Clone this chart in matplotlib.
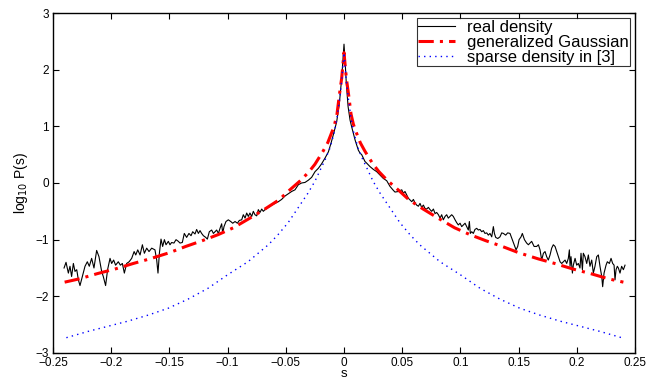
import numpy as np
import matplotlib.pyplot as plt

# real density
s_real = [-0.2405, -0.2388, -0.2368, -0.2354, -0.2340, -0.2325, -0.2311, -0.2296, -0.2282, -0.2268,
          -0.2248, -0.2225, -0.2205, -0.2188, -0.2168, -0.2148, -0.2125, -0.2105, -0.2082, -0.2068,
          -0.2048, -0.2031, -0.2010, -0.1996, -0.1979, -0.1962, -0.1939, -0.1921, -0.1904, -0.1887,
          -0.1867, -0.1846, -0.1824, -0.1803, -0.1789, -0.1772, -0.1752, -0.1732, -0.1715, -0.1695,
          -0.1675, -0.1652, -0.1624, -0.1609, -0.1598, -0.1586, -0.1572, -0.1558, -0.1543, -0.1529,
          -0.1509, -0.1495, -0.1481, -0.1461, -0.1443, -0.1423, -0.1409, -0.1389, -0.1372, -0.1352,
          -0.1332, -0.1314, -0.1300, -0.1280, -0.1266, -0.1251, -0.1237, -0.1223, -0.1208, -0.1188,
          -0.1174, -0.1157, -0.1137, -0.1122, -0.1108, -0.1094, -0.1079, -0.1065, -0.1051, -0.1042,
          -0.1031, -0.1014, -0.0994, -0.0973, -0.0956, -0.0936, -0.0916, -0.0899, -0.0879, -0.0865,
          -0.0850, -0.0836, -0.0822, -0.0808, -0.0793, -0.0779, -0.0765, -0.0750, -0.0736, -0.0722,
          -0.0707, -0.0693, -0.0679, -0.0650, -0.0622, -0.0593, -0.0564, -0.0536, -0.0507, -0.0478,
          -0.0450, -0.0421, -0.0392, -0.0364, -0.0335, -0.0306, -0.0278, -0.0249, -0.0220, -0.0192,
          -0.0163, -0.0134, -0.0112, -0.0092, -0.0077, -0.0063, -0.0040, -0.0020, -0.0008, 0.0,
          0.0008, 0.0020, 0.0035, 0.0052, 0.0066, 0.0080, 0.0095, 0.0109, 0.0123, 0.0137,
          0.0152, 0.0166, 0.0180, 0.0195, 0.0223, 0.0252, 0.0281, 0.0309, 0.0338, 0.0367,
          0.0395, 0.0424, 0.0438, 0.0467, 0.0496, 0.0510, 0.0524, 0.0538, 0.0553, 0.0567,
          0.0582, 0.0596, 0.0610, 0.0624, 0.0639, 0.0653, 0.0667, 0.0682, 0.0696, 0.0710,
          0.0725, 0.0739, 0.0753, 0.0768, 0.0782, 0.0796, 0.0811, 0.0825, 0.0839, 0.0853,
          0.0868, 0.0882, 0.0896, 0.0911, 0.0925, 0.0939, 0.0954, 0.0968, 0.0982, 0.0997,
          0.1011, 0.1025, 0.1040, 0.1054, 0.1068, 0.1077, 0.1085, 0.1097, 0.1111, 0.1125,
          0.1140, 0.1154, 0.1168, 0.1183, 0.1197, 0.1211, 0.1226, 0.1240, 0.1254, 0.1269,
          0.1283, 0.1292, 0.1303, 0.1321, 0.1340, 0.1355, 0.1369, 0.1389, 0.1406, 0.1426,
          0.1446, 0.1463, 0.1478, 0.1492, 0.1504, 0.1521, 0.1532, 0.1550, 0.1569, 0.1584,
          0.1598, 0.1612, 0.1633, 0.1655, 0.1670, 0.1684, 0.1698, 0.1713, 0.1727, 0.1741,
          0.1755, 0.1770, 0.1784, 0.1798, 0.1813, 0.1827, 0.1841, 0.1856, 0.1870, 0.1884,
          0.1899, 0.1913, 0.1927, 0.1936, 0.1942, 0.1950, 0.1962, 0.1970, 0.1985, 0.1999,
          0.2013, 0.2027, 0.2036, 0.2048, 0.2056, 0.2070, 0.2085, 0.2099, 0.2113, 0.2128,
          0.2142, 0.2156, 0.2171, 0.2185, 0.2199, 0.2214, 0.2222, 0.2234, 0.2251, 0.2262,
          0.2280, 0.2294, 0.2308, 0.2320, 0.2328, 0.2337, 0.2348, 0.2357, 0.2371, 0.2385,
          0.2400, 0.2414]
p_real = [-1.50, -1.40, -1.59, -1.47, -1.65, -1.42, -1.56, -1.53, -1.71, -1.81,
          -1.65, -1.47, -1.39, -1.47, -1.33, -1.50, -1.19, -1.30, -1.56, -1.65,
          -1.81, -1.53, -1.33, -1.42, -1.36, -1.45, -1.39, -1.45, -1.42, -1.59,
          -1.42, -1.39, -1.33, -1.21, -1.27, -1.18, -1.27, -1.09, -1.24, -1.15,
          -1.21, -1.15, -1.18, -1.36, -1.59, -1.24, -0.99, -1.12, -1.00, -1.09,
          -1.03, -1.09, -1.05, -1.06, -1.00, -1.03, -1.06, -1.05, -0.89, -0.96,
          -0.89, -0.93, -0.86, -0.90, -0.82, -0.89, -0.84, -0.89, -0.93, -0.96,
          -0.99, -0.86, -0.83, -0.89, -0.86, -0.83, -0.89, -0.80, -0.72, -0.89,
          -0.77, -0.68, -0.65, -0.68, -0.71, -0.68, -0.71, -0.66, -0.65, -0.56,
          -0.62, -0.53, -0.59, -0.53, -0.59, -0.50, -0.56, -0.58, -0.47, -0.52,
          -0.46, -0.50, -0.47, -0.43, -0.39, -0.36, -0.33, -0.29, -0.23, -0.19,
          -0.15, -0.12, -0.03, 0.00, 0.01, 0.05, 0.10, 0.20, 0.26, 0.34,
          0.44, 0.55, 0.70, 0.85, 0.97, 1.08, 1.40, 1.85, 2.20, 2.45,
          2.20, 1.75, 1.35, 1.11, 0.99, 0.88, 0.76, 0.67, 0.58, 0.53,
          0.50, 0.44, 0.38, 0.35, 0.29, 0.24, 0.20, 0.14, 0.08, 0.04,
          -0.06, -0.13, -0.16, -0.15, -0.12, -0.18, -0.15, -0.21, -0.27, -0.30,
          -0.33, -0.29, -0.35, -0.39, -0.41, -0.36, -0.43, -0.39, -0.45, -0.46,
          -0.43, -0.47, -0.50, -0.46, -0.54, -0.52, -0.56, -0.62, -0.56, -0.65,
          -0.59, -0.56, -0.62, -0.59, -0.56, -0.59, -0.65, -0.70, -0.74, -0.71,
          -0.77, -0.74, -0.71, -0.77, -0.83, -0.68, -0.89, -0.86, -0.89, -0.82,
          -0.80, -0.83, -0.82, -0.86, -0.84, -0.89, -0.88, -0.92, -0.89, -0.95,
          -0.77, -0.89, -0.96, -0.98, -0.95, -0.88, -0.89, -0.92, -0.88, -0.89,
          -1.00, -1.09, -1.18, -1.12, -1.00, -0.95, -0.89, -1.00, -1.06, -1.09,
          -1.06, -1.03, -1.12, -1.12, -1.09, -1.18, -1.36, -1.24, -1.21, -1.30,
          -1.36, -1.27, -1.15, -1.09, -1.12, -1.21, -1.30, -1.39, -1.42, -1.39,
          -1.36, -1.42, -1.33, -1.18, -1.47, -1.30, -1.59, -1.45, -1.33, -1.45,
          -1.42, -1.50, -1.24, -1.53, -1.24, -1.30, -1.42, -1.27, -1.47, -1.36,
          -1.59, -1.47, -1.30, -1.27, -1.47, -1.65, -1.83, -1.59, -1.45, -1.39,
          -1.42, -1.33, -1.42, -1.45, -1.71, -1.53, -1.47, -1.50, -1.59, -1.47,
          -1.53, -1.45]

# generalized Gaussian fit
s_gg = [-0.240, -0.227, -0.212, -0.197, -0.181, -0.167, -0.150, -0.136, -0.122, -0.108,
        -0.095, -0.080, -0.068, -0.056, -0.047, -0.037, -0.030, -0.025, -0.018, -0.014,
        -0.010, -0.008, -0.006, -0.004, -0.002, 0.0, 0.002, 0.004, 0.006, 0.008,
        0.010, 0.014, 0.018, 0.025, 0.030, 0.037, 0.047, 0.056, 0.068, 0.080,
        0.095, 0.108, 0.122, 0.136, 0.150, 0.167, 0.181, 0.197, 0.212, 0.227, 0.240]
p_gg = [-1.75, -1.69, -1.60, -1.52, -1.42, -1.34, -1.23, -1.12, -1.02, -0.91,
        -0.79, -0.61, -0.46, -0.30, -0.13, 0.05, 0.20, 0.33, 0.56, 0.71,
        0.92, 1.04, 1.22, 1.55, 1.85, 2.30, 1.85, 1.55, 1.22, 1.04,
        0.92, 0.71, 0.56, 0.33, 0.20, 0.05, -0.13, -0.30, -0.46, -0.61,
        -0.79, -0.91, -1.02, -1.12, -1.23, -1.34, -1.42, -1.52, -1.60, -1.69, -1.75]

# sparse density from [3]
s_sp = [-0.2385, -0.220, -0.203, -0.186, -0.168, -0.151, -0.134, -0.117, -0.100, -0.0825,
        -0.065, -0.057, -0.048, -0.0395, -0.031, -0.025, -0.0195, -0.016, -0.012, -0.008,
        -0.006, -0.004, -0.002, 0.0, 0.002, 0.004, 0.006, 0.008, 0.012, 0.016,
        0.0195, 0.025, 0.031, 0.0395, 0.048, 0.057, 0.065, 0.0825, 0.100, 0.117,
        0.134, 0.151, 0.168, 0.186, 0.203, 0.220, 0.2385]
p_sp = [-2.73, -2.62, -2.53, -2.44, -2.33, -2.21, -2.05, -1.86, -1.62, -1.39,
        -1.09, -0.92, -0.70, -0.44, -0.18, 0.03, 0.27, 0.42, 0.62, 0.92,
        1.15, 1.45, 1.80, 2.30, 1.80, 1.45, 1.15, 0.92, 0.62, 0.42,
        0.27, 0.03, -0.18, -0.44, -0.70, -0.92, -1.09, -1.39, -1.62, -1.86,
        -2.05, -2.21, -2.33, -2.44, -2.53, -2.62, -2.73]

plt.rcParams['font.family'] = ['Liberation Sans', 'DejaVu Sans']

fig = plt.figure(figsize=(6.55, 3.77), dpi=100)
ax = fig.add_axes([0.0809, 0.0637, 0.8886, 0.9018])

ax.plot(s_real, p_real, color='black', linewidth=0.8, label='real density')
ax.plot(s_gg, p_gg, color='red', linestyle=(0, (5, 2, 1, 2)), linewidth=2.2, label='generalized Gaussian')
ax.plot(s_sp, p_sp, color='blue', linestyle=(0, (1, 3)), linewidth=1.0, label='sparse density in [3]')

ax.set_xlim(-0.25, 0.25)
ax.set_ylim(-3, 3)
ax.set_xticks(np.arange(-0.25, 0.2501, 0.05))
ax.set_xticklabels(['\u22120.25', '\u22120.2', '\u22120.15', '\u22120.1', '\u22120.05', '0',
                    '0.05', '0.1', '0.15', '0.2', '0.25'])
ax.set_yticks([-3, -2, -1, 0, 1, 2, 3])
ax.tick_params(direction='in', length=4, width=0.8, top=True, right=True, labelsize=8.5, pad=3)
for sp in ax.spines.values():
    sp.set_linewidth(1.0)

ax.set_xlabel('s', fontsize=9.5, labelpad=-1)
ax.set_ylabel(r'log$_{10}$ P(s)', fontsize=10, labelpad=4)

leg = ax.legend(loc='upper right', fontsize=12, frameon=True, fancybox=False, handlelength=2.2,
                borderpad=0.1, labelspacing=0.0, handletextpad=0.7, borderaxespad=0.3)
leg.get_frame().set_edgecolor('black')
leg.get_frame().set_linewidth(0.8)

fig.savefig('out.png', dpi=100)
